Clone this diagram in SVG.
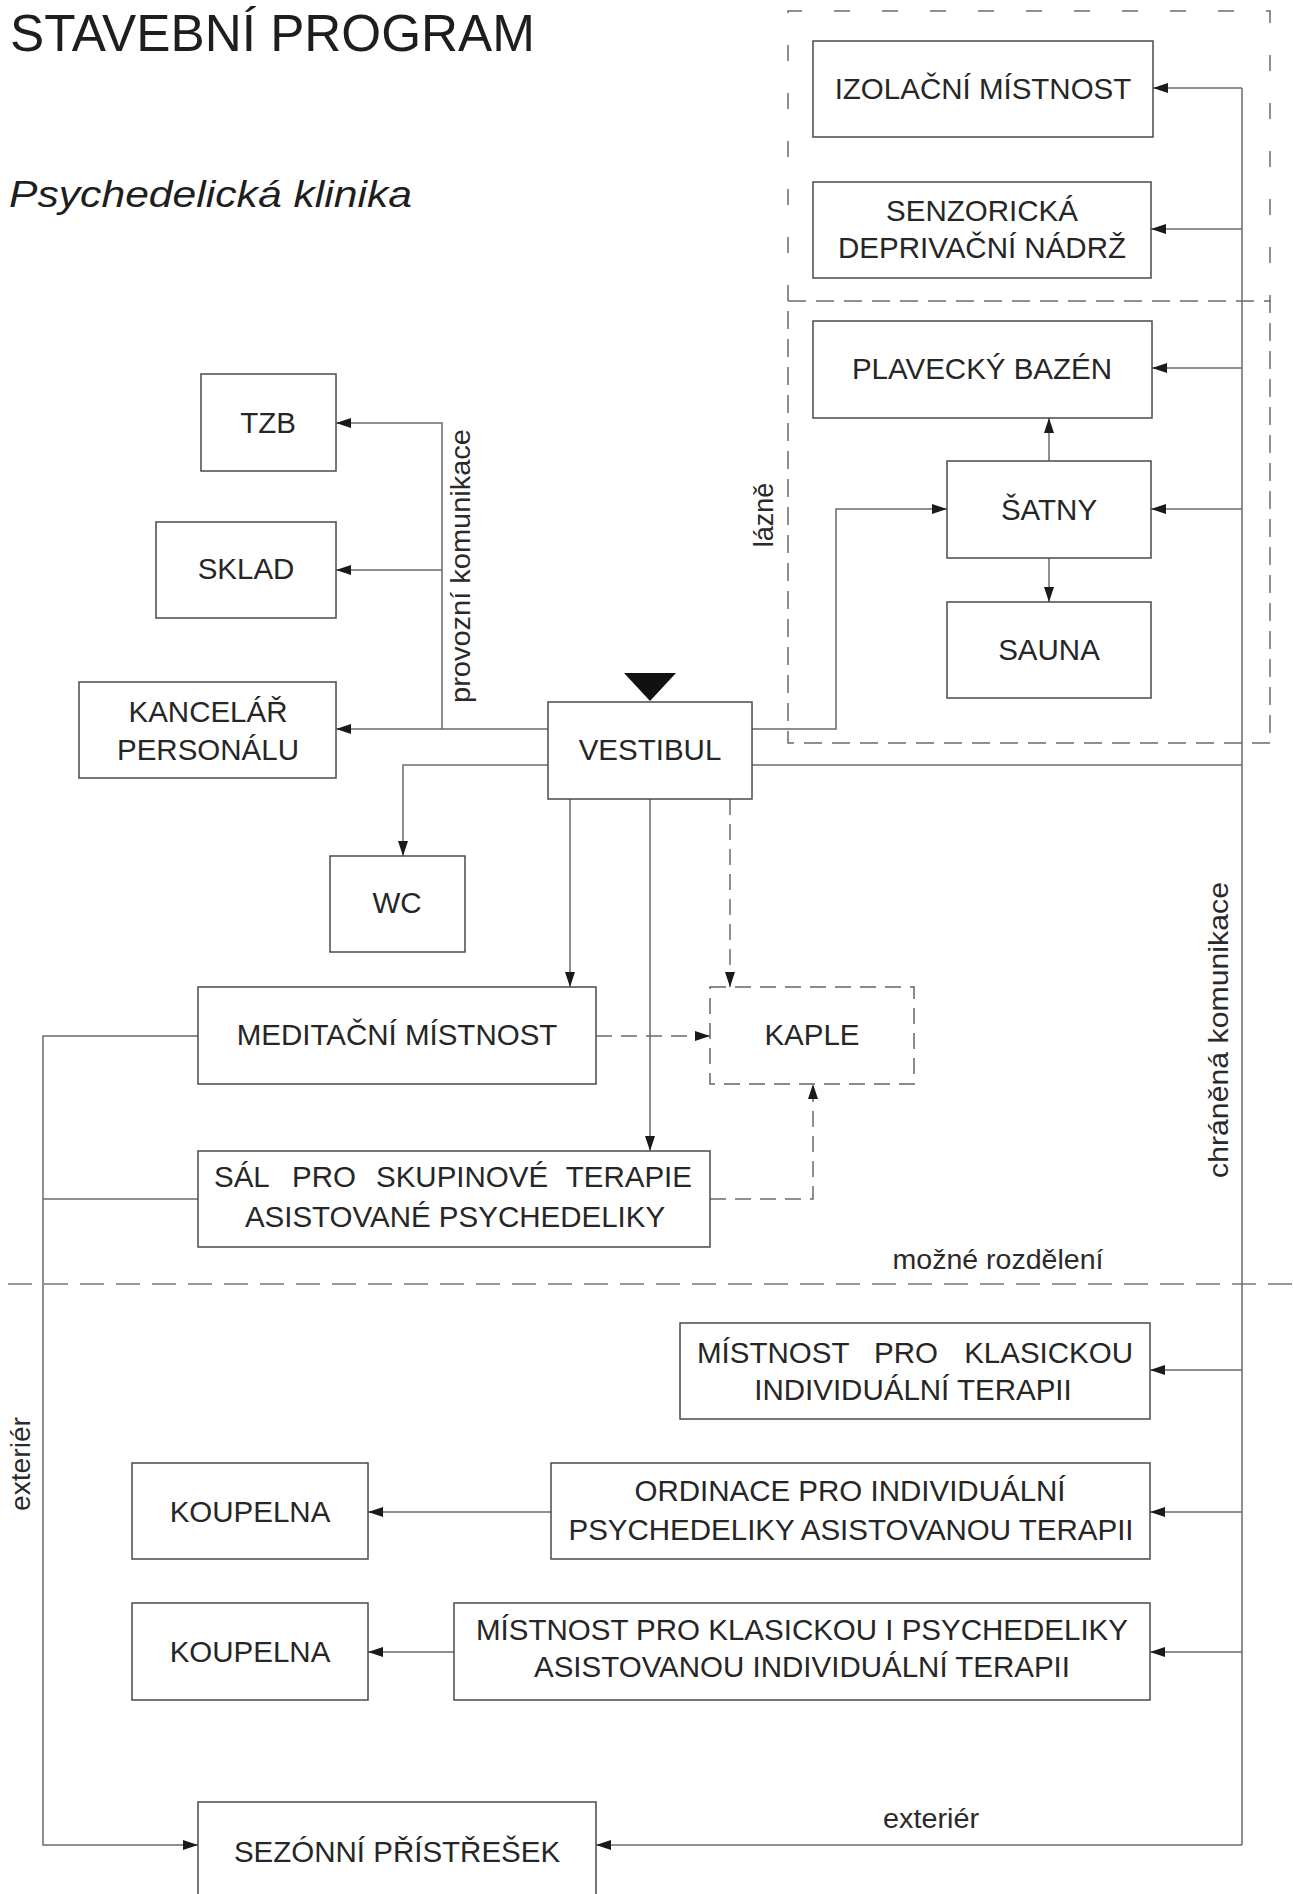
<svg xmlns="http://www.w3.org/2000/svg" width="1293" height="1894" viewBox="0 0 1293 1894">
<style>
.bg{fill:#fff}
.box{fill:#fff;stroke:#4a4a4a;stroke-width:1.5}
.dbox{fill:#fff;stroke:#666;stroke-width:1.5;stroke-dasharray:16 9}
.t{font-family:"Liberation Sans",Arial,sans-serif;font-size:29.5px;fill:#262626;text-anchor:middle}
.ts{font-family:"Liberation Sans",Arial,sans-serif;font-size:29.5px;fill:#262626;text-anchor:start}
.te{font-family:"Liberation Sans",Arial,sans-serif;font-size:29.5px;fill:#262626;text-anchor:end}
.lab{font-family:"Liberation Sans",Arial,sans-serif;font-size:27px;fill:#2a2a2a;text-anchor:middle}
.ln{fill:none;stroke:#6a6a6a;stroke-width:1.5}
.lna{fill:none;stroke:#6a6a6a;stroke-width:1.5;marker-end:url(#ah)}
.dl{fill:none;stroke:#6a6a6a;stroke-width:1.5;stroke-dasharray:16 9}
.dla{fill:none;stroke:#6a6a6a;stroke-width:1.5;stroke-dasharray:16 9;marker-end:url(#ah)}
.zone1{fill:none;stroke:#6a6a6a;stroke-width:1.5;stroke-dasharray:16 32}
.zone2{fill:none;stroke:#6a6a6a;stroke-width:1.5;stroke-dasharray:18 10}
.div{fill:none;stroke:#777;stroke-width:1.5;stroke-dasharray:24 12}
</style>
<defs>
<marker id="ah" markerUnits="userSpaceOnUse" markerWidth="16" markerHeight="11" refX="15" refY="5" orient="auto">
<path d="M0,0 L15,5 L0,10 Z" fill="#1a1a1a"/>
</marker>
</defs>
<rect class="bg" x="0" y="0" width="1293" height="1894"/>

<g id="title">
<text x="10" y="51" font-family="'Liberation Sans',Arial,sans-serif" font-size="52" fill="#1e1e1e" textLength="525" lengthAdjust="spacingAndGlyphs">STAVEBNÍ PROGRAM</text>
<text x="9" y="207" font-family="'Liberation Sans',Arial,sans-serif" font-size="37" font-style="italic" fill="#1e1e1e" textLength="403" lengthAdjust="spacingAndGlyphs">Psychedelická klinika</text>
</g>

<g id="zones">
<path class="zone1" d="M788,301 V11 H1270 V301"/>
<rect class="zone2" x="788" y="301" width="482" height="442"/>
<text class="lab" transform="translate(773,515) rotate(-90)">lázně</text>
</g>

<g id="division">
<line class="div" x1="8" y1="1284" x2="1293" y2="1284"/>
<text class="lab" x="998" y="1269" textLength="211" lengthAdjust="spacingAndGlyphs">možné rozdělení</text>
</g>

<g id="connectors">
<path class="lna" d="M548,729 H336"/>
<path class="lna" d="M442,729 V423 H336"/>
<path class="lna" d="M442,570 H336"/>
<path class="lna" d="M548,765 H403 V856"/>
<path class="lna" d="M570,799 V987"/>
<path class="lna" d="M650,799 V1151"/>
<path class="dla" d="M730,799 V987"/>
<path class="dla" d="M596,1036 H710"/>
<path class="dla" d="M710,1199 H813 V1084"/>
<path class="lna" d="M752,729 H836 V509 H947"/>
<path class="ln" d="M752,765 H1242"/>
<path class="ln" d="M1242,88 V1845"/>
<path class="lna" d="M1242,88 H1153"/>
<path class="lna" d="M1242,229 H1151"/>
<path class="lna" d="M1242,368 H1152"/>
<path class="lna" d="M1242,509 H1151"/>
<path class="lna" d="M1242,1370 H1150"/>
<path class="lna" d="M1242,1512 H1150"/>
<path class="lna" d="M1242,1652 H1150"/>
<path class="lna" d="M1242,1845 H596"/>
<path class="lna" d="M1049,461 V418"/>
<path class="lna" d="M1049,558 V602"/>
<path class="lna" d="M198,1036 H43 V1845 H198"/>
<path class="ln" d="M198,1199 H43"/>
<path class="lna" d="M551,1512 H368"/>
<path class="lna" d="M454,1652 H368"/>
<text class="lab" transform="translate(470,566) rotate(-90)" textLength="274" lengthAdjust="spacingAndGlyphs">provozní komunikace</text>
<text class="lab" transform="translate(1228,1030) rotate(-90)" textLength="296" lengthAdjust="spacingAndGlyphs">chráněná komunikace</text>
<text class="lab" transform="translate(30,1464) rotate(-90)" textLength="94" lengthAdjust="spacingAndGlyphs">exteriér</text>
<text class="lab" x="931" y="1828" textLength="96" lengthAdjust="spacingAndGlyphs">exteriér</text>
</g>

<g id="izolacni"><rect class="box" x="813" y="41" width="340" height="96"/><text class="t" x="983" y="99">IZOLAČNÍ MÍSTNOST</text></g>
<g id="senzoricka"><rect class="box" x="813" y="182" width="338" height="96"/><text class="t" x="982" y="221">SENZORICKÁ</text><text class="t" x="982" y="258">DEPRIVAČNÍ NÁDRŽ</text></g>
<g id="bazen"><rect class="box" x="813" y="321" width="339" height="97"/><text class="t" x="982" y="379">PLAVECKÝ BAZÉN</text></g>
<g id="satny"><rect class="box" x="947" y="461" width="204" height="97"/><text class="t" x="1049" y="520">ŠATNY</text></g>
<g id="sauna"><rect class="box" x="947" y="602" width="204" height="96"/><text class="t" x="1049" y="660">SAUNA</text></g>
<g id="tzb"><rect class="box" x="201" y="374" width="135" height="97"/><text class="t" x="268" y="433">TZB</text></g>
<g id="sklad"><rect class="box" x="156" y="522" width="180" height="96"/><text class="t" x="246" y="579">SKLAD</text></g>
<g id="kancelar"><rect class="box" x="79" y="682" width="257" height="96"/><text class="t" x="208" y="722">KANCELÁŘ</text><text class="t" x="208" y="760">PERSONÁLU</text></g>
<g id="vestibul"><rect class="box" x="548" y="702" width="204" height="97"/><text class="t" x="650" y="760">VESTIBUL</text><path d="M624,673 H676 L650,701 Z" fill="#111"/></g>
<g id="wc"><rect class="box" x="330" y="856" width="135" height="96"/><text class="t" x="397" y="913">WC</text></g>
<g id="meditacni"><rect class="box" x="198" y="987" width="398" height="97"/><text class="t" x="397" y="1045">MEDITAČNÍ MÍSTNOST</text></g>
<g id="kaple"><rect class="dbox" x="710" y="987" width="204" height="97"/><text class="t" x="812" y="1045">KAPLE</text></g>
<g id="sal"><rect class="box" x="198" y="1151" width="512" height="96"/>
<text class="ts" y="1187"><tspan x="214">SÁL</tspan><tspan x="292">PRO</tspan><tspan x="376">SKUPINOVÉ</tspan></text>
<text class="te" x="692" y="1187">TERAPIE</text>
<text class="t" x="455" y="1227">ASISTOVANÉ PSYCHEDELIKY</text></g>
<g id="mistnost-klasicka"><rect class="box" x="680" y="1323" width="470" height="96"/>
<text class="ts" y="1363"><tspan x="697">MÍSTNOST</tspan><tspan x="874">PRO</tspan></text>
<text class="te" x="1133" y="1363">KLASICKOU</text>
<text class="t" x="913" y="1400">INDIVIDUÁLNÍ TERAPII</text></g>
<g id="ordinace"><rect class="box" x="551" y="1463" width="599" height="96"/><text class="t" x="850" y="1501">ORDINACE PRO INDIVIDUÁLNÍ</text><text class="t" x="851" y="1540">PSYCHEDELIKY ASISTOVANOU TERAPII</text></g>
<g id="koupelna1"><rect class="box" x="132" y="1463" width="236" height="96"/><text class="t" x="250" y="1522">KOUPELNA</text></g>
<g id="koupelna2"><rect class="box" x="132" y="1603" width="236" height="97"/><text class="t" x="250" y="1662">KOUPELNA</text></g>
<g id="mistnost-kombinovana"><rect class="box" x="454" y="1603" width="696" height="97"/><text class="t" x="802" y="1640">MÍSTNOST PRO KLASICKOU I PSYCHEDELIKY</text><text class="t" x="802" y="1677">ASISTOVANOU INDIVIDUÁLNÍ TERAPII</text></g>
<g id="sezonni"><rect class="box" x="198" y="1802" width="398" height="110"/><text class="t" x="397" y="1862">SEZÓNNÍ PŘÍSTŘEŠEK</text></g>
</svg>
